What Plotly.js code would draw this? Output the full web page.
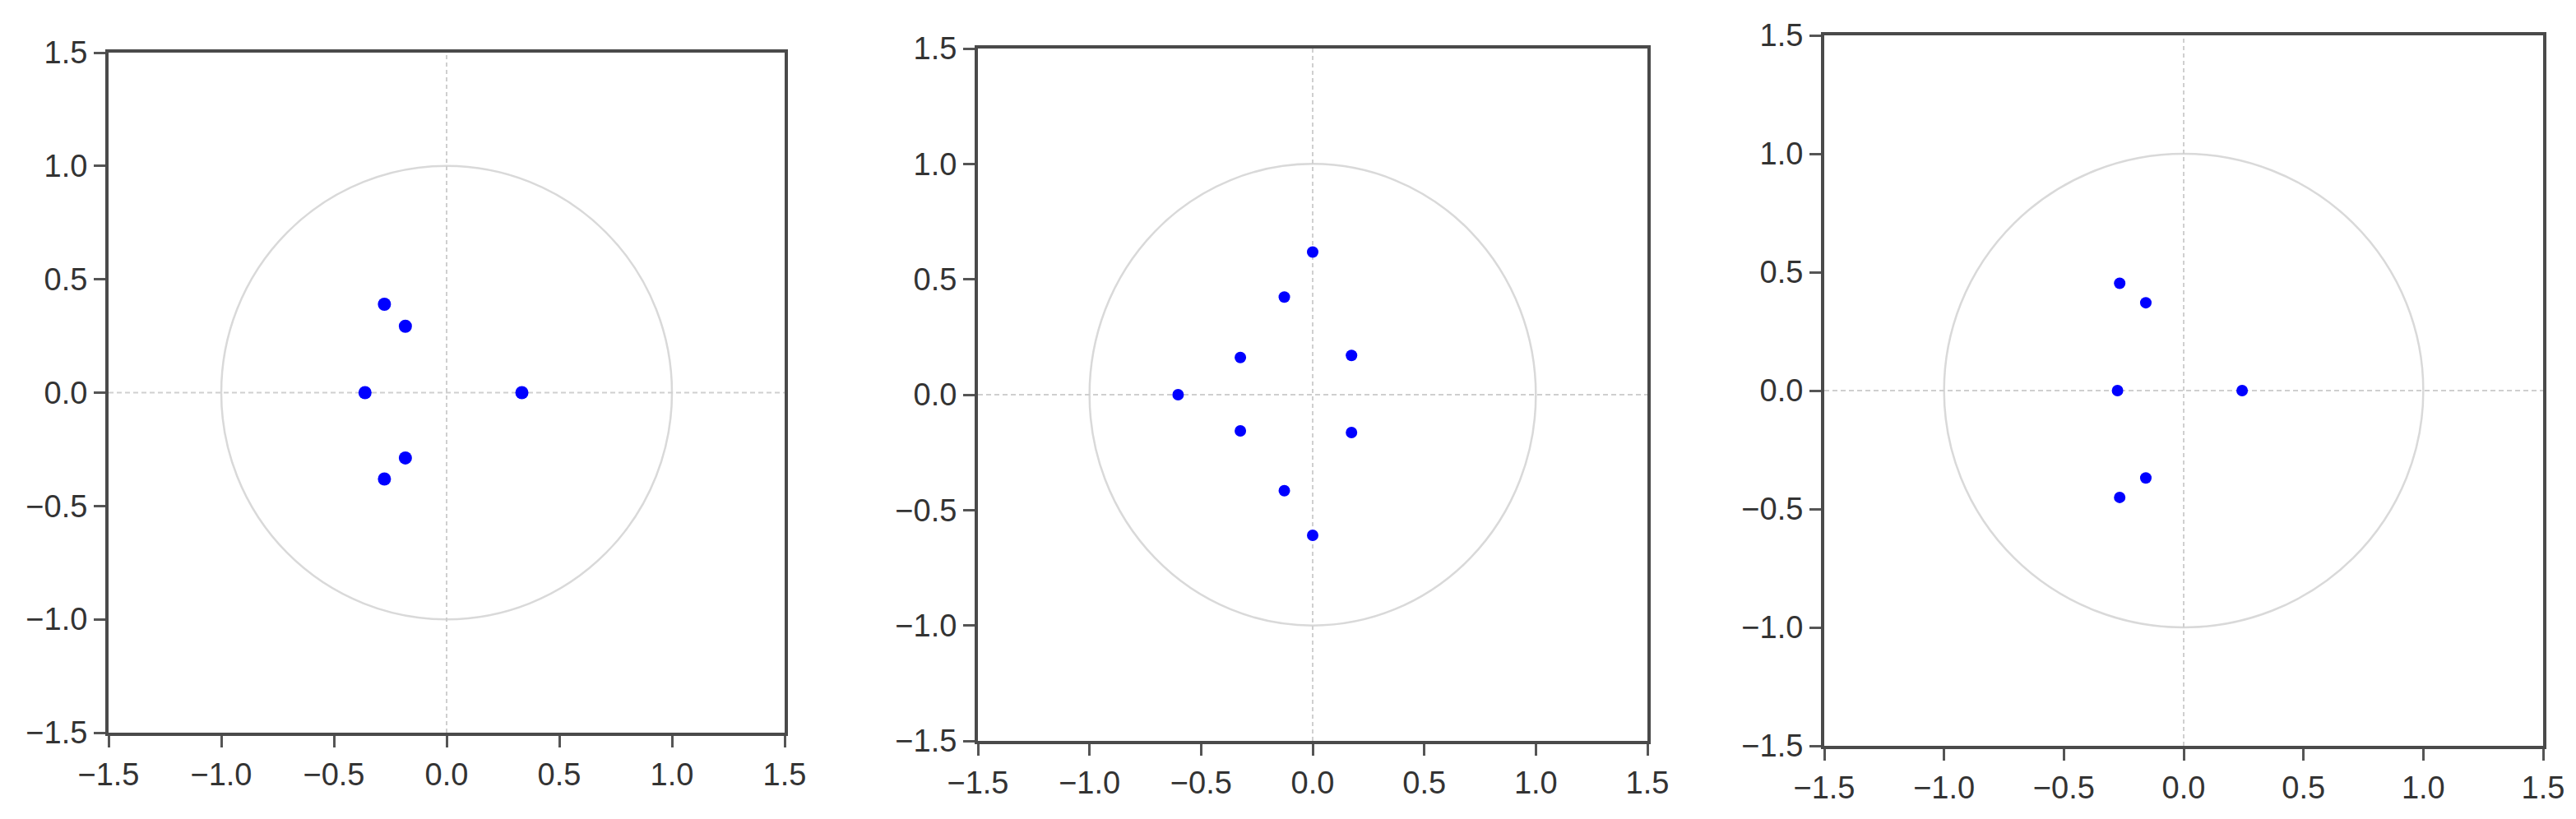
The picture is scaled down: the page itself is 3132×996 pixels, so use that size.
<!DOCTYPE html>
<html>
<head>
<meta charset="utf-8">
<script src="https://cdn.plot.ly/plotly-3.0.1.min.js"></script>
<style>html,body{margin:0;padding:0;background:#fff;}#chart{width:3132px;height:996px;}</style>
</head>
<body>
<div id="chart"></div>
<script>
// Root positions (real part, imaginary part) for each panel
const rootsRe1 = [-0.276, -0.183, -0.362, 0.334, -0.183, -0.276];
const rootsIm1 = [0.39, 0.293, 0.0, 0.0, -0.288, -0.381];

const rootsRe2 = [0.0, -0.127, -0.324, 0.174, -0.603, -0.324, 0.174, -0.127, 0.0];
const rootsIm2 = [0.618, 0.423, 0.161, 0.170, 0.0, -0.157, -0.164, -0.416, -0.609];

const rootsRe3 = [-0.267, -0.158, -0.276, 0.244, -0.158, -0.267];
const rootsIm3 = [0.453, 0.371, 0.0, 0.0, -0.369, -0.451];

const tickVals = [-1.5, -1.0, -0.5, 0.0, 0.5, 1.0, 1.5];
const axisRange = [-1.5, 1.5];
const unitRadius = 1;

const panels = [
  {re: rootsRe1, im: rootsIm1, xd: [132/3132, 954/3132], yd: [(996-891)/996, (996-64)/996], ms: 16},
  {re: rootsRe2, im: rootsIm2, xd: [1189/3132, 2003/3132], yd: [(996-901)/996, (996-59)/996], ms: 14},
  {re: rootsRe3, im: rootsIm3, xd: [2218/3132, 3092/3132], yd: [(996-907)/996, (996-43)/996], ms: 14}
];

const font = {family: 'Liberation Sans, Arial, sans-serif', size: 38, color: '#333'};
const traces = [];
const layout = {
  width: 3132, height: 996,
  margin: {l: 0, r: 0, t: 0, b: 0},
  paper_bgcolor: '#fff', plot_bgcolor: '#fff',
  showlegend: false,
  font: font,
  shapes: []
};

panels.forEach((p, i) => {
  const n = i === 0 ? '' : String(i + 1);
  const xa = 'x' + n, ya = 'y' + n;
  traces.push({
    type: 'scatter', mode: 'markers',
    x: p.re, y: p.im, xaxis: xa, yaxis: ya,
    marker: {color: '#0000ff', size: p.ms},
    hoverinfo: 'x+y'
  });
  const axCommon = {
    range: axisRange, tickvals: tickVals, tickformat: '.1f',
    showgrid: false, zeroline: false,
    showline: true, mirror: true, linecolor: '#4a4a4a', linewidth: 4,
    ticks: 'outside', ticklen: 14, tickwidth: 3, tickcolor: '#555',
    tickfont: font, fixedrange: true
  };
  layout['xaxis' + n] = Object.assign({}, axCommon, {domain: p.xd, anchor: ya});
  layout['yaxis' + n] = Object.assign({}, axCommon, {domain: p.yd, anchor: xa});
  // unit circle
  layout.shapes.push({
    type: 'circle', xref: xa, yref: ya,
    x0: -unitRadius, x1: unitRadius, y0: -unitRadius, y1: unitRadius,
    line: {color: '#d9d9d9', width: 2.5}, layer: 'below'
  });
  // dashed zero lines
  layout.shapes.push({
    type: 'line', xref: xa, yref: ya, x0: 0, x1: 0, y0: axisRange[0], y1: axisRange[1],
    line: {color: '#cfcfcf', width: 2, dash: '5px,4px'}, layer: 'below'
  });
  layout.shapes.push({
    type: 'line', xref: xa, yref: ya, x0: axisRange[0], x1: axisRange[1], y0: 0, y1: 0,
    line: {color: '#cfcfcf', width: 2, dash: '6px,4px'}, layer: 'below'
  });
});

Plotly.newPlot('chart', traces, layout, {staticPlot: true});
</script>
</body>
</html>
